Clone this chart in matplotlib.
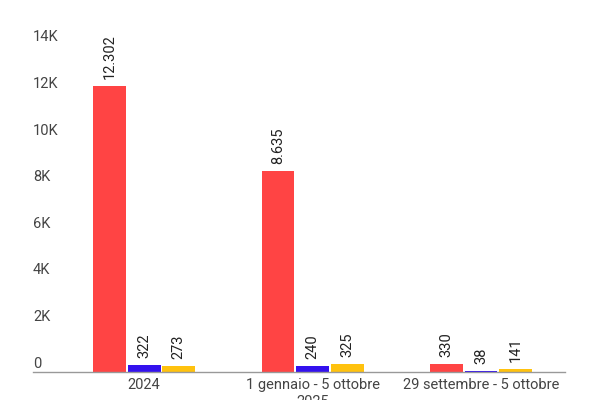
import matplotlib.pyplot as plt
import matplotlib.transforms as mtransforms
import numpy as np

plt.rcParams['font.family'] = ['Roboto', 'DejaVu Sans']

categories = ['2024', '1 gennaio - 5 ottobre\n2025', '29 settembre - 5 ottobre']
serie_rossa = [12302, 8635, 330]
serie_blu = [322, 240, 38]
serie_gialla = [273, 325, 141]
yticks = [0, 2000, 4000, 6000, 8000, 10000, 12000, 14000]
ytick_labels = ['0', '2K', '4K', '6K', '8K', '10K', '12K', '14K']

colori = ['#FF4444', '#3311EE', '#FFC20E']


def fmt(v):
    return '{:,}'.format(v).replace(',', '.')


fig = plt.figure(figsize=(6, 4), dpi=100)
ax = fig.add_axes([0.055, 0.07, 0.887, 0.815])

x = np.arange(len(categories))
w = 0.195
step = 0.205
for i, (vals, c) in enumerate(zip([serie_rossa, serie_blu, serie_gialla], colori)):
    xs = x + (i - 1) * step
    ax.bar(xs, vals, width=w, color=c, zorder=2)
    for xx, v in zip(xs, vals):
        ax.annotate(fmt(v), (xx, v), xytext=(0, 5), textcoords='offset points',
                    rotation=90, ha='center', va='bottom', fontsize=10.5,
                    color='#222222', annotation_clip=False)

ax.set_xlim(-0.66, 2.5)
ax.set_ylim(0, 14000)
ax.set_xticks(x)
ax.set_xticklabels(categories, fontsize=10.5, color='#444444', va='top', linespacing=1.3)
ax.set_yticks(yticks)
ax.set_yticklabels(ytick_labels, fontsize=10.5, color='#444444')
ax.tick_params(axis='both', length=0)
ax.tick_params(axis='y', pad=0)
ax.tick_params(axis='x', pad=4)
off = mtransforms.ScaledTranslation(0, 10 / 100, fig.dpi_scale_trans)
for lab in ax.get_yticklabels():
    lab.set_horizontalalignment('left')
    lab.set_transform(lab.get_transform() + off)

for s in ['top', 'right', 'left']:
    ax.spines[s].set_visible(False)
ax.spines['bottom'].set_color('#999999')
ax.spines['bottom'].set_linewidth(1)
ax.spines['bottom'].set_zorder(3)

fig.savefig('out.png', dpi=100)
